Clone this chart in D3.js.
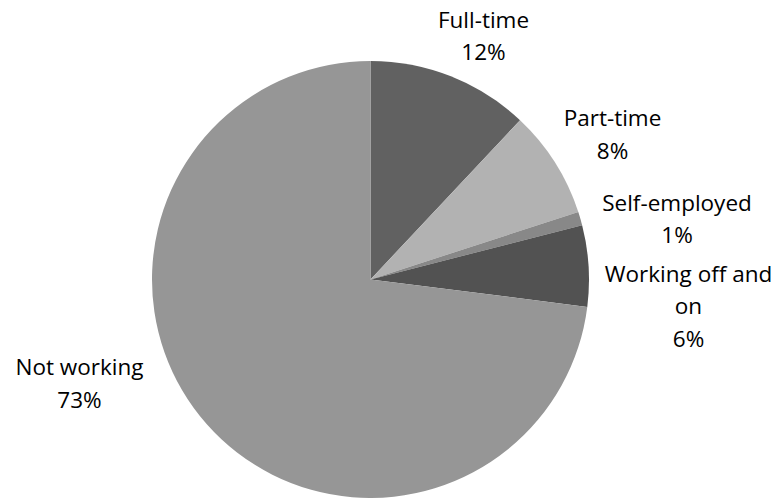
<!DOCTYPE html>
<html>
<head>
<meta charset="utf-8">
<script src="https://cdn.jsdelivr.net/npm/d3@7"></script>
<style>
  html, body { margin: 0; padding: 0; background: #fff; }
  svg { display: block; }
  text { font-family: "Open Sans", "Lato", sans-serif; fill: #000; }
</style>
</head>
<body>
<svg id="chart" width="780" height="498"></svg>
<script>
// ---- data ----
const categories = ["Full-time", "Part-time", "Self-employed", "Working off and on", "Not working"];
const values = [12, 8, 1, 6, 73];
const colors = ["#616161", "#b2b2b2", "#888888", "#525252", "#969696"];

// ---- layout (label block centres relative to pie centre) ----
const layout = {
  width: 780, height: 498,
  cx: 370.5, cy: 279.5, r: 218.5,
  fontSize: 22.5, lineH: 32.5, capHalf: 7.5, wrapWidth: 190,
  labelOffsets: [[113, -243], [242, -144.5], [306.5, -60], [318, 27], [-291, 104.5]]
};

const svg = d3.select("#chart");
const g = svg.append("g").attr("transform", `translate(${layout.cx},${layout.cy})`);

const data = categories.map((c, i) => ({ name: c, value: values[i], color: colors[i], i }));
const pie = d3.pie().value(d => d.value).sort(null);
const arc = d3.arc().innerRadius(0).outerRadius(layout.r);
const arcs = pie(data);

g.selectAll("path.slice").data(arcs).join("path")
  .attr("class", "slice")
  .attr("d", arc)
  .attr("fill", d => d.data.color);

const total = d3.sum(values);
const fmt = v => Math.round(v / total * 100) + "%";

// wrap helper
const measure = svg.append("text").attr("font-size", layout.fontSize).attr("visibility", "hidden");
function textWidth(s) { measure.text(s); return measure.node().getComputedTextLength(); }
function wrap(s) {
  const words = s.split(" ");
  const lines = [];
  let cur = "";
  words.forEach(w => {
    const t = cur ? cur + " " + w : w;
    if (cur && textWidth(t) > layout.wrapWidth) { lines.push(cur); cur = w; }
    else cur = t;
  });
  if (cur) lines.push(cur);
  return lines;
}

arcs.forEach((a, i) => {
  const lines = wrap(a.data.name).concat([fmt(a.data.value)]);
  const [dx, dy] = layout.labelOffsets[i];
  const n = lines.length;
  const t = g.append("text")
    .attr("text-anchor", "middle")
    .attr("font-size", layout.fontSize);
  lines.forEach((ln, k) => {
    t.append("tspan")
      .attr("x", dx)
      .attr("y", dy + layout.capHalf + (k - (n - 1) / 2) * layout.lineH)
      .text(ln);
  });
});
measure.remove();
</script>
</body>
</html>
